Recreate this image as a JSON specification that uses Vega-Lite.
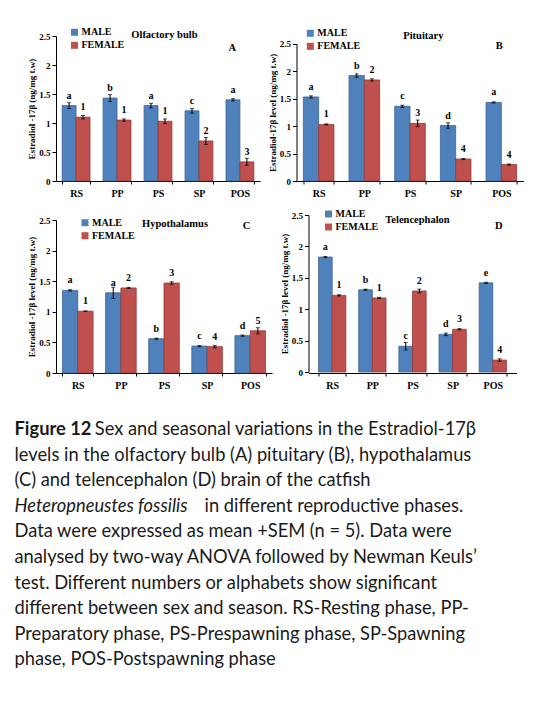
{
  "$schema": "https://vega.github.io/schema/vega-lite/v6.json",
  "background": "white",
  "padding": {"left": 14, "top": 27, "right": 0, "bottom": 0},
  "datasets": {
    "A": [
      {"phase": "RS", "sex": "MALE", "mean": 1.30, "sem": 0.05, "sig": "a"},
      {"phase": "RS", "sex": "FEMALE", "mean": 1.10, "sem": 0.03, "sig": "1"},
      {"phase": "PP", "sex": "MALE", "mean": 1.43, "sem": 0.06, "sig": "b"},
      {"phase": "PP", "sex": "FEMALE", "mean": 1.05, "sem": 0.02, "sig": "1"},
      {"phase": "PS", "sex": "MALE", "mean": 1.30, "sem": 0.04, "sig": "a"},
      {"phase": "PS", "sex": "FEMALE", "mean": 1.03, "sem": 0.04, "sig": "1"},
      {"phase": "SP", "sex": "MALE", "mean": 1.21, "sem": 0.04, "sig": "c"},
      {"phase": "SP", "sex": "FEMALE", "mean": 0.69, "sem": 0.06, "sig": "2"},
      {"phase": "POS", "sex": "MALE", "mean": 1.40, "sem": 0.02, "sig": "a"},
      {"phase": "POS", "sex": "FEMALE", "mean": 0.33, "sem": 0.06, "sig": "3"}
    ],
    "B": [
      {"phase": "RS", "sex": "MALE", "mean": 1.53, "sem": 0.02, "sig": "a"},
      {"phase": "RS", "sex": "FEMALE", "mean": 1.03, "sem": 0.01, "sig": "1"},
      {"phase": "PP", "sex": "MALE", "mean": 1.92, "sem": 0.03, "sig": "b"},
      {"phase": "PP", "sex": "FEMALE", "mean": 1.84, "sem": 0.02, "sig": "2"},
      {"phase": "PS", "sex": "MALE", "mean": 1.36, "sem": 0.02, "sig": "c"},
      {"phase": "PS", "sex": "FEMALE", "mean": 1.05, "sem": 0.06, "sig": "3"},
      {"phase": "SP", "sex": "MALE", "mean": 1.01, "sem": 0.05, "sig": "d"},
      {"phase": "SP", "sex": "FEMALE", "mean": 0.40, "sem": 0.01, "sig": "4"},
      {"phase": "POS", "sex": "MALE", "mean": 1.43, "sem": 0.01, "sig": "a"},
      {"phase": "POS", "sex": "FEMALE", "mean": 0.30, "sem": 0.01, "sig": "4"}
    ],
    "C": [
      {"phase": "RS", "sex": "MALE", "mean": 1.35, "sem": 0.01, "sig": "a"},
      {"phase": "RS", "sex": "FEMALE", "mean": 1.01, "sem": 0.005, "sig": "1"},
      {"phase": "PP", "sex": "MALE", "mean": 1.31, "sem": 0.09, "sig": "a"},
      {"phase": "PP", "sex": "FEMALE", "mean": 1.39, "sem": 0.01, "sig": "2"},
      {"phase": "PS", "sex": "MALE", "mean": 0.56, "sem": 0.01, "sig": "b"},
      {"phase": "PS", "sex": "FEMALE", "mean": 1.47, "sem": 0.02, "sig": "3"},
      {"phase": "SP", "sex": "MALE", "mean": 0.44, "sem": 0.01, "sig": "c"},
      {"phase": "SP", "sex": "FEMALE", "mean": 0.43, "sem": 0.02, "sig": "4"},
      {"phase": "POS", "sex": "MALE", "mean": 0.61, "sem": 0.01, "sig": "d"},
      {"phase": "POS", "sex": "FEMALE", "mean": 0.69, "sem": 0.05, "sig": "5"}
    ],
    "D": [
      {"phase": "RS", "sex": "MALE", "mean": 1.83, "sem": 0.01, "sig": "a"},
      {"phase": "RS", "sex": "FEMALE", "mean": 1.22, "sem": 0.01, "sig": "1"},
      {"phase": "PP", "sex": "MALE", "mean": 1.31, "sem": 0.01, "sig": "b"},
      {"phase": "PP", "sex": "FEMALE", "mean": 1.18, "sem": 0.01, "sig": "1"},
      {"phase": "PS", "sex": "MALE", "mean": 0.41, "sem": 0.06, "sig": "c"},
      {"phase": "PS", "sex": "FEMALE", "mean": 1.29, "sem": 0.03, "sig": "2"},
      {"phase": "SP", "sex": "MALE", "mean": 0.60, "sem": 0.02, "sig": "d"},
      {"phase": "SP", "sex": "FEMALE", "mean": 0.68, "sem": 0.01, "sig": "3"},
      {"phase": "POS", "sex": "MALE", "mean": 1.42, "sem": 0.01, "sig": "e"},
      {"phase": "POS", "sex": "FEMALE", "mean": 0.19, "sem": 0.02, "sig": "4"}
    ],
    "caption": [
      {"line": 1, "part": "bold", "text": "Figure 12"},
      {"line": 1, "part": "after1", "text": "Sex and seasonal variations in the Estradiol-17β"},
      {"line": 2, "part": "plain", "text": "levels in the olfactory bulb (A) pituitary (B), hypothalamus"},
      {"line": 3, "part": "plain", "text": "(C) and telencephalon (D) brain of the catfish"},
      {"line": 4, "part": "italic", "text": "Heteropneustes fossilis"},
      {"line": 4, "part": "after4", "text": "in different reproductive phases."},
      {"line": 5, "part": "plain", "text": "Data were expressed as mean +SEM (n = 5). Data were"},
      {"line": 6, "part": "plain", "text": "analysed by two-way ANOVA followed by Newman Keuls’"},
      {"line": 7, "part": "plain", "text": "test. Different numbers or alphabets show significant"},
      {"line": 8, "part": "plain", "text": "different between sex and season. RS-Resting phase, PP-"},
      {"line": 9, "part": "plain", "text": "Preparatory phase, PS-Prespawning phase, SP-Spawning"},
      {"line": 10, "part": "plain", "text": "phase, POS-Postspawning phase"}
    ]
  },
  "concat": [
    {
      "width": 204, "height": 145,
      "data": {"name": "A"},
      "encoding": {
        "x": {"field": "phase", "type": "nominal", "scale": {"domain": ["RS", "PP", "PS", "SP", "POS"], "paddingInner": 0.32, "paddingOuter": 0.15}, "axis": {"title": null}},
        "y": {"field": "mean", "type": "quantitative", "scale": {"domain": [0, 2.5]}, "axis": {"title": "Estradiol -17β (ng/mg t.w)", "values": [0, 0.5, 1, 1.5, 2, 2.5], "format": "~g"}}
      },
      "layer": [
        {"mark": {"type": "bar", "strokeWidth": 0.8},
         "encoding": {
           "xOffset": {"field": "sex", "type": "nominal", "scale": {"domain": ["MALE", "FEMALE"]}},
           "color": {"field": "sex", "type": "nominal", "scale": {"domain": ["MALE", "FEMALE"], "range": ["#4F81BD", "#C0504D"]}, "legend": {"title": null, "legendX": 13.5, "legendY": -8.7}},
           "stroke": {"field": "sex", "type": "nominal", "scale": {"domain": ["MALE", "FEMALE"], "range": ["#3B6494", "#923A37"]}, "legend": null}
         }},
        {"mark": {"type": "errorbar", "ticks": {"size": 4}, "color": "black", "thickness": 1},
         "encoding": {"xOffset": {"field": "sex", "type": "nominal"}, "yError": {"field": "sem"}}},
        {"mark": {"type": "text", "dy": -7, "fontWeight": "bold", "fontSize": 10, "baseline": "alphabetic"},
         "encoding": {"xOffset": {"field": "sex", "type": "nominal"}, "text": {"field": "sig"}}},
        {"transform": [{"filter": "datum.phase == 'PS' && datum.sex == 'MALE'"}],
         "mark": {"type": "text", "fontWeight": "bold", "fontSize": 10.5, "dx": 6.4, "dy": -1.3, "baseline": "middle"},
         "encoding": {"y": {"datum": 2.5}, "text": {"value": "Olfactory bulb"}}},
        {"transform": [{"filter": "datum.phase == 'POS' && datum.sex == 'MALE'"}],
         "mark": {"type": "text", "fontWeight": "bold", "fontSize": 10.5, "dx": -7.6, "baseline": "middle"},
         "encoding": {"y": {"datum": 2.3}, "text": {"value": "A"}}}
      ]
    },
    {
      "width": 227, "height": 145,
      "data": {"name": "B"},
      "encoding": {
        "x": {"field": "phase", "type": "nominal", "scale": {"domain": ["RS", "PP", "PS", "SP", "POS"], "paddingInner": 0.33, "paddingOuter": 0.15}, "axis": {"title": null}},
        "y": {"field": "mean", "type": "quantitative", "scale": {"domain": [0, 2.5], "range": [145, 7.7]}, "axis": {"title": "Estradiol-17β level (ng/mg t.w)", "values": [0, 0.5, 1, 1.5, 2, 2.5], "format": "~g"}}
      },
      "layer": [
        {"mark": {"type": "bar", "strokeWidth": 0.8},
         "encoding": {
           "xOffset": {"field": "sex", "type": "nominal", "scale": {"domain": ["MALE", "FEMALE"]}},
           "color": {"field": "sex", "type": "nominal", "scale": {"domain": ["MALE", "FEMALE"], "range": ["#4F81BD", "#C0504D"]}, "legend": {"title": null, "legendX": 8.8, "legendY": -7.7}},
           "stroke": {"field": "sex", "type": "nominal", "scale": {"domain": ["MALE", "FEMALE"], "range": ["#3B6494", "#923A37"]}, "legend": null}
         }},
        {"mark": {"type": "errorbar", "ticks": {"size": 4}, "color": "black", "thickness": 1},
         "encoding": {"xOffset": {"field": "sex", "type": "nominal"}, "yError": {"field": "sem"}}},
        {"mark": {"type": "text", "dy": -7, "fontWeight": "bold", "fontSize": 10, "baseline": "alphabetic"},
         "encoding": {"xOffset": {"field": "sex", "type": "nominal"}, "text": {"field": "sig"}}},
        {"transform": [{"filter": "datum.phase == 'PS' && datum.sex == 'MALE'"}],
         "mark": {"type": "text", "fontWeight": "bold", "fontSize": 10.5, "dx": 13.4, "dy": -8, "baseline": "middle"},
         "encoding": {"y": {"datum": 2.5}, "text": {"value": "Pituitary"}}},
        {"transform": [{"filter": "datum.phase == 'POS' && datum.sex == 'MALE'"}],
         "mark": {"type": "text", "fontWeight": "bold", "fontSize": 10.5, "dx": -2, "baseline": "middle"},
         "encoding": {"y": {"datum": 2.45}, "text": {"value": "B"}}}
      ]
    },
    {
      "width": 216, "height": 158,
      "data": {"name": "C"},
      "encoding": {
        "x": {"field": "phase", "type": "nominal", "scale": {"domain": ["RS", "PP", "PS", "SP", "POS"], "paddingInner": 0.29, "paddingOuter": 0.15}, "axis": {"title": null}},
        "y": {"field": "mean", "type": "quantitative", "scale": {"domain": [0, 2.5], "range": [158, 5]}, "axis": {"title": "Estradiol -17β level (ng/mg t.w)", "values": [0, 0.5, 1, 1.5, 2, 2.5], "format": "~g"}}
      },
      "layer": [
        {"mark": {"type": "bar", "strokeWidth": 0.8},
         "encoding": {
           "xOffset": {"field": "sex", "type": "nominal", "scale": {"domain": ["MALE", "FEMALE"]}},
           "color": {"field": "sex", "type": "nominal", "scale": {"domain": ["MALE", "FEMALE"], "range": ["#4F81BD", "#C0504D"]}, "legend": {"title": null, "legendX": 24, "legendY": 2.7}},
           "stroke": {"field": "sex", "type": "nominal", "scale": {"domain": ["MALE", "FEMALE"], "range": ["#3B6494", "#923A37"]}, "legend": null}
         }},
        {"mark": {"type": "errorbar", "ticks": {"size": 4}, "color": "black", "thickness": 1},
         "encoding": {"xOffset": {"field": "sex", "type": "nominal"}, "yError": {"field": "sem"}}},
        {"mark": {"type": "text", "dy": -7, "fontWeight": "bold", "fontSize": 10, "baseline": "alphabetic"},
         "encoding": {"xOffset": {"field": "sex", "type": "nominal"}, "text": {"field": "sig"}}},
        {"transform": [{"filter": "datum.phase == 'PS' && datum.sex == 'MALE'"}],
         "mark": {"type": "text", "fontWeight": "bold", "fontSize": 10.5, "dx": 11, "dy": 4.3, "baseline": "middle"},
         "encoding": {"y": {"datum": 2.5}, "text": {"value": "Hypothalamus"}}},
        {"transform": [{"filter": "datum.phase == 'POS' && datum.sex == 'MALE'"}],
         "mark": {"type": "text", "fontWeight": "bold", "fontSize": 10.5, "dx": -3.8, "dy": 6, "baseline": "middle"},
         "encoding": {"y": {"datum": 2.5}, "text": {"value": "C"}}}
      ]
    },
    {
      "width": 220, "height": 158,
      "data": {"name": "D"},
      "encoding": {
        "x": {"field": "phase", "type": "nominal", "scale": {"domain": ["RS", "PP", "PS", "SP", "POS"], "range": [12, 220], "paddingInner": 0.32, "paddingOuter": 0.25}, "axis": {"title": null}},
        "y": {"field": "mean", "type": "quantitative", "scale": {"domain": [0, 2.5], "range": [157, 0]}, "axis": {"title": "Estradiol -17β level (ng/mg t.w)", "values": [0, 0.5, 1, 1.5, 2, 2.5], "format": "~g", "offset": -12}}
      },
      "layer": [
        {"mark": {"type": "bar", "strokeWidth": 0.8},
         "encoding": {
           "xOffset": {"field": "sex", "type": "nominal", "scale": {"domain": ["MALE", "FEMALE"]}},
           "color": {"field": "sex", "type": "nominal", "scale": {"domain": ["MALE", "FEMALE"], "range": ["#4F81BD", "#C0504D"]}, "legend": {"title": null, "legendX": 27, "legendY": -6}},
           "stroke": {"field": "sex", "type": "nominal", "scale": {"domain": ["MALE", "FEMALE"], "range": ["#3B6494", "#923A37"]}, "legend": null}
         }},
        {"mark": {"type": "errorbar", "ticks": {"size": 4}, "color": "black", "thickness": 1},
         "encoding": {"xOffset": {"field": "sex", "type": "nominal"}, "yError": {"field": "sem"}}},
        {"mark": {"type": "text", "dy": -7, "fontWeight": "bold", "fontSize": 10, "baseline": "alphabetic"},
         "encoding": {"xOffset": {"field": "sex", "type": "nominal"}, "text": {"field": "sig"}}},
        {"transform": [{"filter": "datum.phase == 'PS' && datum.sex == 'MALE'"}],
         "mark": {"type": "text", "fontWeight": "bold", "fontSize": 10.5, "dx": 5, "dy": 5, "baseline": "middle"},
         "encoding": {"y": {"datum": 2.5}, "text": {"value": "Telencephalon"}}},
        {"transform": [{"filter": "datum.phase == 'POS' && datum.sex == 'MALE'"}],
         "mark": {"type": "text", "fontWeight": "bold", "fontSize": 10.5, "dx": 6, "dy": 11, "baseline": "middle"},
         "encoding": {"y": {"datum": 2.5}, "text": {"value": "D"}}}
      ]
    },
    {
      "width": 200, "height": 276.5,
      "data": {"name": "caption"},
      "encoding": {
        "y": {"field": "line", "type": "ordinal", "scale": {"type": "point", "padding": 0.9}, "axis": null}
      },
      "layer": [
        {"transform": [{"filter": "datum.part == 'plain'"}],
         "mark": {"type": "text", "align": "left", "baseline": "middle", "font": "Lato", "fontSize": 18.3, "color": "#1a1a1a"},
         "encoding": {"x": {"value": -41.5}, "text": {"field": "text"}}},
        {"transform": [{"filter": "datum.part == 'bold'"}],
         "mark": {"type": "text", "align": "left", "baseline": "middle", "font": "Lato", "fontSize": 18.3, "fontWeight": "bold", "color": "#1a1a1a"},
         "encoding": {"x": {"value": -41.5}, "text": {"field": "text"}}},
        {"transform": [{"filter": "datum.part == 'after1'"}],
         "mark": {"type": "text", "align": "left", "baseline": "middle", "font": "Lato", "fontSize": 18.3, "color": "#1a1a1a", "dx": 80.3},
         "encoding": {"x": {"value": -41.5}, "text": {"field": "text"}}},
        {"transform": [{"filter": "datum.part == 'italic'"}],
         "mark": {"type": "text", "align": "left", "baseline": "middle", "font": "Lato", "fontSize": 18.3, "fontStyle": "italic", "color": "#1a1a1a"},
         "encoding": {"x": {"value": -41.5}, "text": {"field": "text"}}},
        {"transform": [{"filter": "datum.part == 'after4'"}],
         "mark": {"type": "text", "align": "left", "baseline": "middle", "font": "Lato", "fontSize": 18.3, "color": "#1a1a1a", "dx": 190},
         "encoding": {"x": {"value": -41.5}, "text": {"field": "text"}}}
      ]
    }
  ],
  "columns": 2,
  "spacing": {"row": 34, "column": 24.5},
  "bounds": "flush",
  "resolve": {"scale": {"x": "independent", "y": "independent", "xOffset": "independent", "color": "independent", "stroke": "independent"}},
  "config": {
    "view": {"stroke": null},
    "font": "Liberation Serif",
    "text": {"font": "Liberation Serif", "color": "black"},
    "axis": {
      "domainColor": "black", "tickColor": "black", "labelColor": "black", "titleColor": "black",
      "labelFont": "Liberation Serif", "titleFont": "Liberation Serif",
      "labelFontWeight": "bold", "titleFontWeight": "bold",
      "labelFontSize": 9, "titleFontSize": 9, "grid": false, "tickSize": 4
    },
    "axisX": {"labelAngle": 0, "labelFontSize": 10, "tickBand": "extent", "labelPadding": 4, "tickSize": 3},
    "axisY": {"labelPadding": 2, "titlePadding": 2},
    "legend": {
      "orient": "none", "symbolType": "square", "symbolSize": 49,
      "labelFont": "Liberation Serif", "labelFontWeight": "bold", "labelFontSize": 10, "labelColor": "black",
      "rowPadding": 3, "padding": 0, "labelOffset": 2, "symbolStrokeWidth": 0
    }
  }
}
